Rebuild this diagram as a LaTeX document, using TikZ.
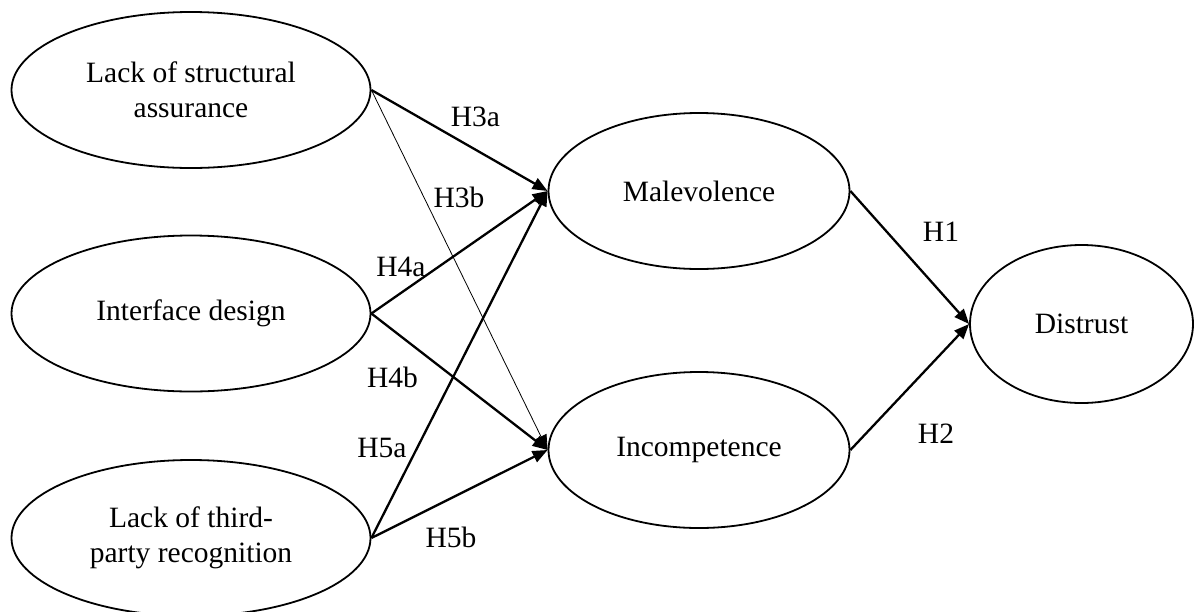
\documentclass[tikz,border=0pt]{standalone}
\usepackage{fontspec}
\setmainfont{Liberation Serif}
\usetikzlibrary{shapes.geometric,arrows.meta}
\begin{document}
\begin{tikzpicture}[x=1pt,y=-1pt,
  construct/.style={ellipse,draw,line width=1.8pt,inner sep=0pt,align=center,
    font=\fontsize{29.5}{34.7}\selectfont},
  bigconstruct/.style={construct,minimum width=359pt,minimum height=156pt},
  midconstruct/.style={construct,minimum width=301pt,minimum height=156pt},
  relarrow/.style={line width=2.3pt,-{Triangle[length=15pt,width=12pt]}},
  thinarrow/.style={line width=0.8pt,-{Triangle[length=15pt,width=12pt]}},
  hlabel/.style={font=\fontsize{29.5}{34.7}\selectfont,inner sep=0pt}]
\path[use as bounding box] (0,0) rectangle (1194,611);

\node[bigconstruct] (lsa) at (191,90) {Lack of structural\\assurance};
\node[bigconstruct] (ifd) at (191,313.5) {Interface design};
\node[bigconstruct] (ltr) at (191,538) {Lack of third-\\party recognition};
\node[midconstruct] (mal) at (699,191) {Malevolence};
\node[midconstruct] (inc) at (699,450) {Incompetence};
\node[construct,minimum width=223pt,minimum height=158pt] (dis) at (1081.5,324) {Distrust};

\draw[relarrow] (lsa.east) -- (mal.west);
\draw[thinarrow] (lsa.east) -- (inc.west);
\draw[relarrow] (ifd.east) -- (mal.west);
\draw[relarrow] (ifd.east) -- (inc.west);
\draw[relarrow] (ltr.east) -- (mal.west);
\draw[relarrow] (ltr.east) -- (inc.west);
\draw[relarrow] (mal.east) -- (dis.west);
\draw[relarrow] (inc.east) -- (dis.west);

\node[hlabel] (h3a) at (475.5,117) {H3a};
\node[hlabel] (h3b) at (459,197) {H3b};
\node[hlabel] (h4a) at (401,267) {H4a};
\node[hlabel] (h4b) at (392.5,377) {H4b};
\node[hlabel] (h5a) at (382,448) {H5a};
\node[hlabel] (h5b) at (451,537) {H5b};
\node[hlabel] (h1) at (941,232) {H1};
\node[hlabel] (h2) at (936,434) {H2};
\end{tikzpicture}
\end{document}
